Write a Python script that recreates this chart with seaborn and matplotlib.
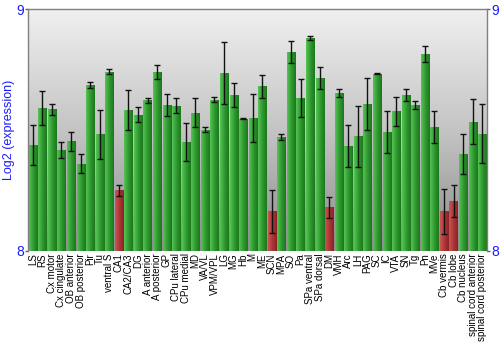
import numpy as np
import pandas as pd
import matplotlib
matplotlib.use("Agg")
import matplotlib.pyplot as plt
from matplotlib.colors import LinearSegmentedColormap
import seaborn as sns

regions = ["LS", "RS", "Cx motor", "Cx cingulate", "OB anterior", "OB posterior", "Pir", "Tu",
           "ventral S", "CA1", "CA2/CA3", "DG", "A anterior", "A posterior", "GP", "CPu lateral",
           "CPu medial", "MD", "VA/VL", "VPM/VPL", "LG", "MG", "Hb", "M", "ME", "SCN", "MPA", "SO",
           "Pa", "SPa ventral", "SPa dorsal", "DM", "VMH", "Arc", "LH", "PAG", "SC", "IC", "VTA",
           "SN", "Tg", "Pn", "MVe", "Cb vermis", "Cb lobe", "Cb nucleus",
           "spinal cord anterior", "spinal cord posterior"]

expression = [8.437, 8.590, 8.585, 8.416, 8.452, 8.359, 8.685, 8.481,
              8.740, 8.250, 8.581, 8.563, 8.622, 8.740, 8.602, 8.600,
              8.449, 8.570, 8.500, 8.624, 8.736, 8.644, 8.546, 8.550, 8.680, 8.163, 8.470, 8.822,
              8.631, 8.880, 8.714, 8.180, 8.651, 8.434, 8.473, 8.607, 8.732, 8.491, 8.577,
              8.644, 8.602, 8.815, 8.512, 8.163, 8.205, 8.400,
              8.534, 8.484]

error = [0.083, 0.069, 0.024, 0.033, 0.041, 0.039, 0.012, 0.100,
         0.010, 0.023, 0.082, 0.030, 0.010, 0.030, 0.045, 0.031,
         0.079, 0.060, 0.010, 0.010, 0.127, 0.051, 0.002, 0.100, 0.048, 0.089, 0.012, 0.046,
         0.078, 0.008, 0.045, 0.044, 0.017, 0.086, 0.125, 0.108, 0.002, 0.088, 0.059,
         0.024, 0.016, 0.032, 0.068, 0.093, 0.066, 0.081,
         0.092, 0.121]

LOW_CUTOFF = 8.3
GREEN = ("#58c458", "#2f9a2f", "#1c761c")
RED = ("#cc5656", "#ad3636", "#8a2323")

plt.rcParams["font.family"] = ["Liberation Sans", "DejaVu Sans"]

df = pd.DataFrame({"region": regions, "expression": expression, "error": error})
df["level"] = np.where(df["expression"] < LOW_CUTOFF, "low", "normal")

fig = plt.figure(figsize=(5, 3.5), dpi=100)
ax = fig.add_axes([0.056, 0.284, 0.918, 0.690])

sns.barplot(data=df, x="region", y="expression", hue="level",
            palette={"low": RED[1], "normal": GREEN[1]}, dodge=False,
            width=0.85, legend=False, errorbar=None, ax=ax, zorder=2)

ax.set_ylim(8, 9)
ax.set_xlim(-0.5, len(regions) - 0.5)

# grey vertical background gradient, light at the top
bg = LinearSegmentedColormap.from_list("bg", ["#f0f0f0", "#c4c4c4", "#8c8c8c"])
ax.imshow(np.linspace(0, 1, 256).reshape(-1, 1), cmap=bg, aspect="auto",
          extent=(-0.5, len(regions) - 0.5, 8, 9), origin="upper", zorder=0)

# shaded bars: light left edge fading to a darker right edge
cm_green = LinearSegmentedColormap.from_list("g", list(GREEN))
cm_red = LinearSegmentedColormap.from_list("r", list(RED))
grad = np.linspace(0, 1, 64).reshape(1, -1)
for patch in list(ax.patches):
    val = patch.get_height()
    if not np.isfinite(val) or val <= 0:
        continue
    x0 = patch.get_x()
    w = patch.get_width()
    cmap = cm_red if val < LOW_CUTOFF else cm_green
    im = ax.imshow(grad, cmap=cmap, aspect="auto",
                   extent=(x0, x0 + w, 8, val), zorder=2.5)
    im.set_clip_path(patch)
    patch.set_edgecolor("none")

ax.errorbar(np.arange(len(regions)), df["expression"], yerr=df["error"],
            fmt="none", ecolor="#111111", elinewidth=1.0, capsize=2.2,
            capthick=1.0, zorder=4)

ax.set_yticks([8, 9])
ax.set_yticklabels(["8", "9"])
ax.tick_params(axis="y", colors="#606060", labelcolor="#1a1aff", labelsize=10,
               length=2.5, width=1, pad=0.5, left=True, right=True, labelright=True)
ax.tick_params(axis="x", length=0, pad=2, labelsize=7)
plt.setp(ax.get_xticklabels(), rotation=90)
ax.set_xlabel("")
ax.set_ylabel("Log2 (expression)", color="#1a1aff", fontsize=9, labelpad=1)

for side in ["left", "right", "top"]:
    ax.spines[side].set_color("#808080")
    ax.spines[side].set_linewidth(1)
ax.spines["bottom"].set_visible(False)

fig.savefig("out.png", dpi=100)
